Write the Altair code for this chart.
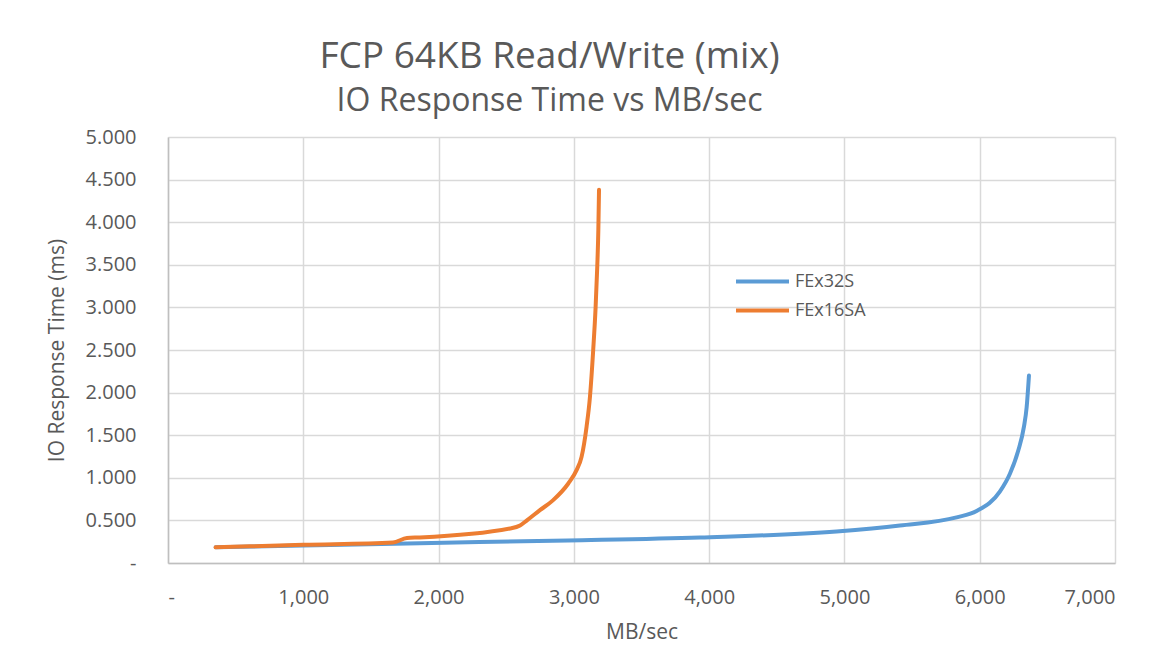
import altair as alt
import pandas as pd

# FEx32S (blue)
blue_mb = [352, 1000, 1862, 2956, 3932, 4942, 5410, 5829, 5977, 6150, 6224, 6285, 6327, 6347, 6364]
blue_ms = [0.184, 0.205, 0.233, 0.265, 0.300, 0.370, 0.440, 0.535, 0.610, 0.840, 1.050, 1.320, 1.600, 1.830, 2.200]

# FEx16SA (orange)
orange_mb = [352, 1000, 1663, 1766, 1862, 2528, 2602, 2653, 2749, 2845, 2959, 3020, 3057, 3094, 3119, 3143, 3161, 3173, 3181, 3186]
orange_ms = [0.184, 0.213, 0.240, 0.294, 0.300, 0.405, 0.440, 0.500, 0.620, 0.735, 0.933, 1.090, 1.246, 1.600, 1.950, 2.500, 3.010, 3.480, 3.910, 4.380]

series_names = ["FEx32S", "FEx16SA"]
series_colors = ["#5B9BD5", "#ED7D31"]

rows = []
for i, (x, y) in enumerate(zip(blue_mb, blue_ms)):
    rows.append({"series": series_names[0], "mb": x, "ms": y, "order": i})
for i, (x, y) in enumerate(zip(orange_mb, orange_ms)):
    rows.append({"series": series_names[1], "mb": x, "ms": y, "order": i})
df = pd.DataFrame(rows)

FONT = "Open Sans"
TXT = "#595959"

chart = alt.Chart(df).mark_line(strokeWidth=4, interpolate="monotone", strokeCap="round").encode(
    x=alt.X("mb:Q",
            scale=alt.Scale(domain=[0, 7000], nice=False, zero=True),
            axis=alt.Axis(title="MB/sec", values=[0, 1000, 2000, 3000, 4000, 5000, 6000, 7000],
                          labelExpr="datum.value == 0 ? '-' : format(datum.value, ',')",
                          labelPadding=24, titlePadding=14)),
    y=alt.Y("ms:Q",
            scale=alt.Scale(domain=[0, 5], nice=False),
            axis=alt.Axis(title="IO Response Time (ms)",
                          values=[0, 0.5, 1, 1.5, 2, 2.5, 3, 3.5, 4, 4.5, 5],
                          labelExpr="datum.value == 0 ? '-' : format(datum.value, '.3f')",
                          labelPadding=32, titlePadding=18)),
    color=alt.Color("series:N",
                    scale=alt.Scale(domain=series_names, range=series_colors),
                    sort=series_names,
                    legend=alt.Legend(title=None, orient="none", legendX=566, legendY=132,
                                      symbolType="stroke", symbolSize=2809, symbolStrokeWidth=4,
                                      clipHeight=25,
                                      labelFont=FONT, labelFontSize=18, labelColor=TXT,
                                      labelOffset=4, rowPadding=4)),
    order="order:Q",
    detail="series:N",
).properties(
    width=947,
    height=426,
    title=alt.TitleParams(
        text="FCP 64KB Read/Write (mix)",
        subtitle="IO Response Time vs MB/sec",
        anchor="middle", dx=-92, offset=9,
        font=FONT, fontSize=37, fontWeight=400, color=TXT,
        subtitleFont=FONT, subtitleFontSize=32, subtitleColor=TXT, subtitlePadding=10,
    ),
    autosize=alt.AutoSizeParams(type="none"),
    padding={"left": 160, "top": 129, "right": 20, "bottom": 80},
).configure(
    background="white"
).configure_view(
    stroke=None
).configure_axis(
    labelFont=FONT, labelFontSize=20, labelColor=TXT,
    titleFont=FONT, titleFontSize=21, titleColor=TXT, titleFontWeight=400,
    gridColor="#D9D9D9", gridWidth=1.5,
    domainColor="#BFBFBF", domainWidth=1.5,
    ticks=False,
)

chart.save("out.html", embed_options={"renderer": "svg", "actions": False})
